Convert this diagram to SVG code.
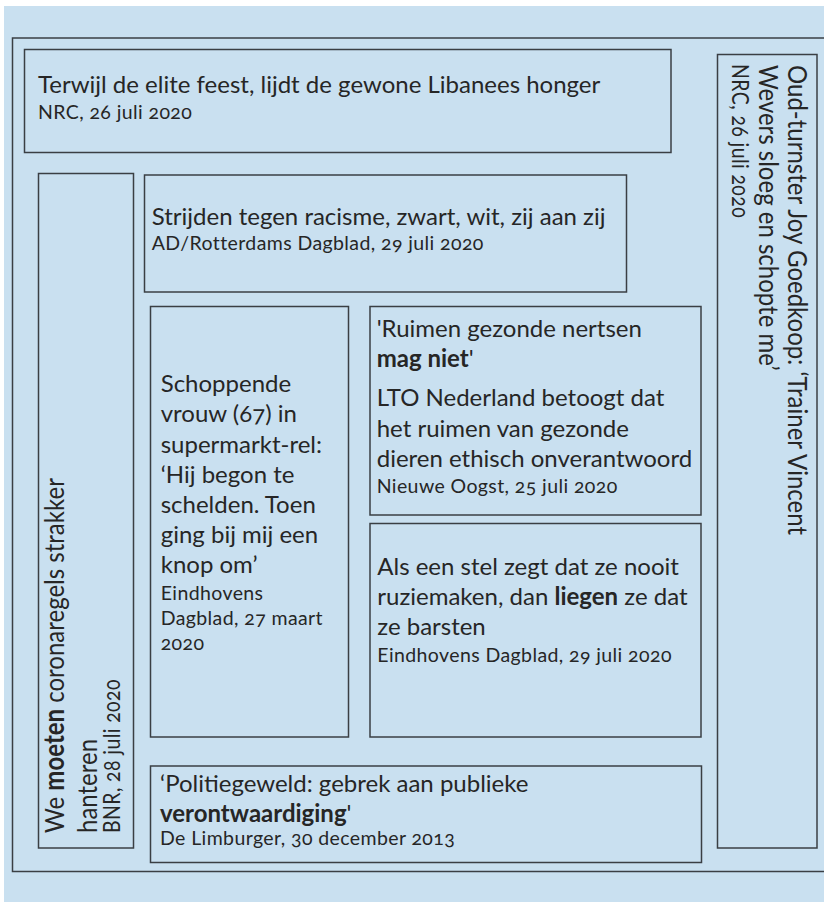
<svg xmlns="http://www.w3.org/2000/svg" width="824" height="902" viewBox="0 0 824 902">
<style>
text{font-family:Lato,"Open Sans","Liberation Sans",sans-serif;fill:#262626;font-variant-numeric:oldstyle-nums}
.t{font-size:24px}
.s{font-size:19.5px;letter-spacing:0.4px}
.b{font-weight:bold}
.box{fill:none;stroke:#3a3f44;stroke-width:1.5}
</style>
<rect x="0" y="0" width="824" height="902" fill="#ffffff"/>
<rect x="4" y="6" width="820" height="896" fill="#c9e0f0"/>
<rect class="box" x="12.5" y="38" width="830" height="833.5"/>
<g id="connectors"/>
<g id="n1">
<rect class="box" x="24.5" y="49.5" width="646.5" height="103"/>
<text class="t" x="38" y="93">Terwijl de elite feest, lijdt de gewone Libanees honger</text>
<text class="s" x="38" y="119">NRC, 26 juli 2020</text>
</g>
<g id="n2">
<rect class="box" x="717.5" y="54.5" width="99.5" height="793.5"/>
<g transform="translate(787.5,65) rotate(90) scale(1,1.15)">
<text class="t" x="0" y="0">Oud-turnster Joy Goedkoop: ‘Trainer Vincent</text>
</g>
<g transform="translate(758.5,65) rotate(90) scale(1,1.15)">
<text class="t" x="0" y="0">Wevers sloeg en schopte me’</text>
</g>
<g transform="translate(732,64) rotate(90) scale(1,1.15)">
<text class="s" x="0" y="0">NRC, 26 juli 2020</text>
</g>
</g>
<g id="n3">
<rect class="box" x="38.5" y="173.5" width="95" height="674.5"/>
<g transform="translate(63.5,833) rotate(-90) scale(1,1.15)">
<text class="t" x="0" y="0">We <tspan class="b">moeten</tspan> coronaregels strakker</text>
</g>
<g transform="translate(97,833) rotate(-90) scale(1,1.15)">
<text class="t" x="0" y="0">hanteren</text>
</g>
<g transform="translate(120,833) rotate(-90) scale(1,1.15)">
<text class="s" x="0" y="0">BNR, 28 juli 2020</text>
</g>
</g>
<g id="n4">
<rect class="box" x="144.5" y="175" width="482" height="117"/>
<text class="t" x="151.7" y="225">Strijden tegen racisme, zwart, wit, zij aan zij</text>
<text class="s" x="151.7" y="250">AD/Rotterdams Dagblad, 29 juli 2020</text>
</g>
<g id="n5">
<rect class="box" x="150.5" y="306.5" width="198" height="430.5"/>
<text class="t" x="160.7" y="391.7">Schoppende</text>
<text class="t" x="160.7" y="421.7">vrouw (67) in</text>
<text class="t" x="160.7" y="452.7">supermarkt-rel:</text>
<text class="t" x="160.7" y="482.7">‘Hij begon te</text>
<text class="t" x="160.7" y="512.7">schelden. Toen</text>
<text class="t" x="160.7" y="542.7">ging bij mij een</text>
<text class="t" x="160.7" y="572.7">knop om’</text>
<text class="s" x="160.7" y="600">Eindhovens</text>
<text class="s" x="160.7" y="625">Dagblad, 27 maart</text>
<text class="s" x="160.7" y="650">2020</text>
</g>
<g id="n6">
<rect class="box" x="370" y="306.5" width="331" height="208.5"/>
<text class="t" x="376.7" y="336.7">'Ruimen gezonde nertsen</text>
<text class="t" x="376.7" y="366.7"><tspan class="b">mag niet</tspan>'</text>
<text class="t" x="376.7" y="406">LTO Nederland betoogt dat</text>
<text class="t" x="376.7" y="436.7">het ruimen van gezonde</text>
<text class="t" x="376.7" y="466.7">dieren ethisch onverantwoord</text>
<text class="s" x="376.7" y="492.7">Nieuwe Oogst, 25 juli 2020</text>
</g>
<g id="n7">
<rect class="box" x="370" y="523.5" width="331" height="213.5"/>
<text class="t" x="377.3" y="575">Als een stel zegt dat ze nooit</text>
<text class="t" x="377.3" y="605">ruziemaken, dan <tspan class="b">liegen</tspan> ze dat</text>
<text class="t" x="377.3" y="635">ze barsten</text>
<text class="s" x="377.3" y="662">Eindhovens Dagblad, 29 juli 2020</text>
</g>
<g id="n8">
<rect class="box" x="150.5" y="766" width="551" height="96.5"/>
<text class="t" x="160" y="791.7">‘Politiegeweld: gebrek aan publieke</text>
<text class="t" x="160" y="821.7"><tspan class="b">verontwaardiging</tspan>'</text>
<text class="s" x="160" y="845">De Limburger, 30 december 2013</text>
</g>
</svg>
